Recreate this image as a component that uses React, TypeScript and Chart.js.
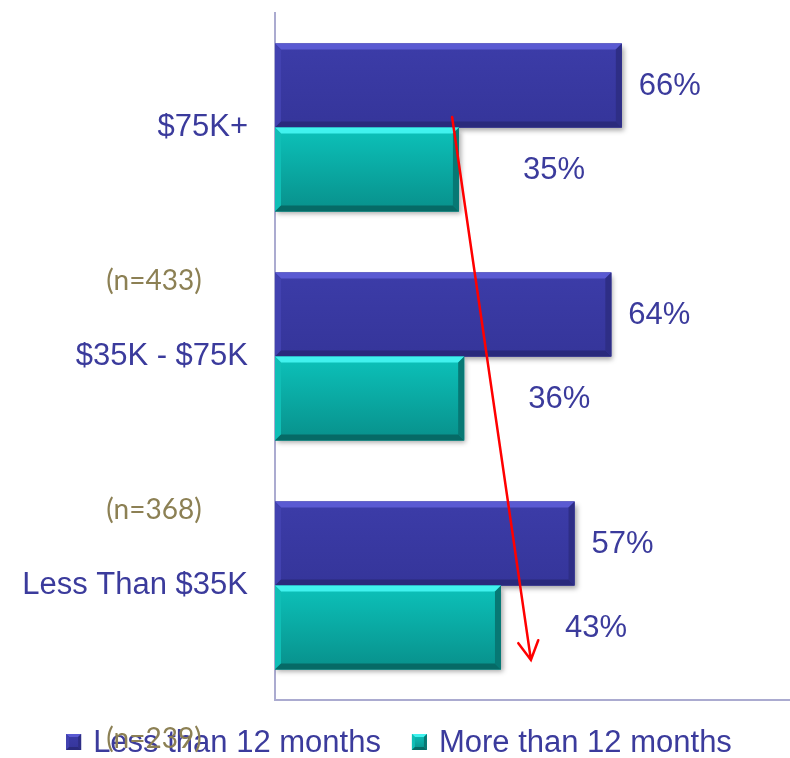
import React, { useEffect, useRef } from "react";
import { Chart, registerables } from "chart.js";

Chart.register(...registerables);

// ---- data ----
const categories = ["$75K+", "$35K - $75K", "Less Than $35K"];
const sampleSizes = ["(n=433)", "(n=368)", "(n=239)"];
const seriesNames = ["Less than 12 months", "More than 12 months"];
const lessThan12 = [66, 64, 57];
const moreThan12 = [35, 36, 43];
const X_MAX = 98;

// ---- styles ----
const BLUE = "#393a9f";
const TEAL = "#0bb3ab";
const TEXT = "#3b3b9c";
const OLIVE = "#8c8054";
const AXIS = "#ababd0";
const FONT = "'Liberation Sans', Arial, sans-serif";
const N_FONT = "Lato, 'Open Sans', sans-serif";

const SHADES = [
  { top: "#5a5ad2", left: "#4242b0", bottom: "#2a2a7c", right: "#2e2e86", g0: "#3c3ca8", g1: "#35359a" },
  { top: "#40f2ee", left: "#10beb6", bottom: "#066a66", right: "#077874", g0: "#0cc2ba", g1: "#08908b" },
];

function poly(ctx: CanvasRenderingContext2D, pts: number[][]) {
  ctx.beginPath();
  ctx.moveTo(pts[0][0], pts[0][1]);
  for (let i = 1; i < pts.length; i++) ctx.lineTo(pts[i][0], pts[i][1]);
  ctx.closePath();
  ctx.fill();
}

function drawBevelRect(ctx: CanvasRenderingContext2D, left: number, top: number, right: number, bottom: number, s: any, b: number) {
  const g = ctx.createLinearGradient(0, top, 0, bottom);
  g.addColorStop(0, s.g0);
  g.addColorStop(1, s.g1);
  ctx.fillStyle = g;
  ctx.fillRect(left, top, right - left, bottom - top);
  ctx.fillStyle = s.top;
  poly(ctx, [[left, top], [right, top], [right - b, top + b], [left + b, top + b]]);
  ctx.fillStyle = s.left;
  poly(ctx, [[left, top], [left + b, top + b], [left + b, bottom - b], [left, bottom]]);
  ctx.fillStyle = s.bottom;
  poly(ctx, [[left, bottom], [left + b, bottom - b], [right - b, bottom - b], [right, bottom]]);
  ctx.fillStyle = s.right;
  poly(ctx, [[right, top], [right - b, top + b], [right - b, bottom - b], [right, bottom]]);
}

const bevelPlugin = {
  id: "bevel",
  beforeDatasetsDraw(chart: any) {
    const ctx = chart.ctx;
    ctx.save();
    ctx.shadowColor = "rgba(0,0,0,0.35)";
    ctx.shadowBlur = 5;
    ctx.shadowOffsetX = 2;
    ctx.shadowOffsetY = 3;
  },
  afterDatasetsDraw(chart: any) {
    const ctx = chart.ctx;
    ctx.restore();
    chart.data.datasets.forEach((_ds: any, di: number) => {
      const meta = chart.getDatasetMeta(di);
      meta.data.forEach((bar: any) => {
        const { x, y, base, height } = bar.getProps(["x", "y", "base", "height"], true);
        const left = Math.min(base, x);
        const right = Math.max(base, x);
        const top = y - height / 2;
        const bottom = y + height / 2;
        drawBevelRect(ctx, left, top, right, bottom, SHADES[di], 6);
      });
    });
  },
};

const overlayPlugin = {
  id: "overlay",
  afterDraw(chart: any) {
    const ctx: CanvasRenderingContext2D = chart.ctx;
    const xs = chart.scales.x;
    const ys = chart.scales.y;
    ctx.save();

    // value labels
    ctx.font = `31px ${FONT}`;
    ctx.fillStyle = TEXT;
    ctx.textAlign = "left";
    ctx.textBaseline = "middle";
    chart.data.datasets.forEach((ds: any, di: number) => {
      const meta = chart.getDatasetMeta(di);
      meta.data.forEach((bar: any, i: number) => {
        const v = ds.data[i];
        const lx = di === 0 ? bar.x + 17 : bar.x + 64;
        ctx.fillText(`${v}%`, lx, bar.y + 1);
      });
    });

    // red arrow
    const x1 = xs.getPixelForValue(33.7);
    const y1 = ys.getPixelForValue(-0.046);
    const x2 = xs.getPixelForValue(48.7);
    const y2 = ys.getPixelForValue(2.325);
    ctx.strokeStyle = "#ff0000";
    ctx.lineWidth = 2.5;
    ctx.lineCap = "round";
    ctx.beginPath();
    ctx.moveTo(x1, y1);
    ctx.lineTo(x2, y2);
    const ang = Math.atan2(y2 - y1, x2 - x1);
    const hl = 21;
    const spread = 0.5;
    ctx.moveTo(x2 - hl * Math.cos(ang - spread), y2 - hl * Math.sin(ang - spread));
    ctx.lineTo(x2, y2);
    ctx.lineTo(x2 - hl * Math.cos(ang + spread), y2 - hl * Math.sin(ang + spread));
    ctx.stroke();

    // custom legend
    ctx.font = `31px ${FONT}`;
    const box = 15;
    const gap = 12;
    const itemGap = 31;
    const widths = seriesNames.map((n) => ctx.measureText(n).width);
    const total = widths.reduce((a, w) => a + box + gap + w, 0) + itemGap * (seriesNames.length - 1);
    let lx = 399 - total / 2;
    const cy = 742;
    seriesNames.forEach((name, i) => {
      drawBevelRect(ctx, lx, cy - 8, lx + box, cy + 8, SHADES[i], 3);
      ctx.fillStyle = TEXT;
      ctx.textAlign = "left";
      ctx.textBaseline = "middle";
      ctx.fillText(name, lx + box + gap, cy + 1);
      lx += box + gap + widths[i] + itemGap;
    });

    // sample sizes
    ctx.font = `28px ${N_FONT}`;
    ctx.fillStyle = OLIVE;
    ctx.textAlign = "center";
    ctx.textBaseline = "middle";
    sampleSizes.forEach((s, i) => {
      ctx.fillText(s, 154, ys.getPixelForValue(i + 0.67));
    });

    ctx.restore();
  },
};

export default function App() {
  const ref = useRef<HTMLCanvasElement | null>(null);

  useEffect(() => {
    if (!ref.current) return;
    const chart = new Chart(ref.current, {
      type: "bar",
      data: {
        labels: categories,
        datasets: [
          { label: seriesNames[0], data: lessThan12, backgroundColor: BLUE, borderWidth: 0 },
          { label: seriesNames[1], data: moreThan12, backgroundColor: TEAL, borderWidth: 0 },
        ],
      },
      options: {
        indexAxis: "y",
        responsive: false,
        animation: false,
        events: [],
        layout: { padding: { top: 13, bottom: 58, left: 0, right: 0 } },
        datasets: { bar: { categoryPercentage: 0.733, barPercentage: 1 } },
        plugins: { legend: { display: false }, tooltip: { enabled: false } },
        scales: {
          x: {
            min: 0,
            max: X_MAX,
            grid: { display: false, drawTicks: false },
            ticks: { display: false },
            border: { display: true, color: AXIS, width: 2 },
            afterFit: (s: any) => {
              s.height = 0;
              s.paddingLeft = 0;
              s.paddingRight = 0;
            },
          },
          y: {
            grid: { display: false, drawTicks: false },
            border: { display: true, color: AXIS, width: 2 },
            ticks: { color: TEXT, font: { family: FONT, size: 31 }, padding: 27 },
            afterFit: (s: any) => {
              s.width = 275;
              s.paddingTop = 0;
              s.paddingBottom = 0;
            },
          },
        },
      } as any,
      plugins: [bevelPlugin, overlayPlugin],
    });
    return () => chart.destroy();
  }, []);

  return (
    <div style={{ position: "absolute", left: 0, top: 0, width: 790, height: 758, background: "#fff" }}>
      <canvas ref={ref} width={790} height={758} style={{ display: "block" }} />
    </div>
  );
}
